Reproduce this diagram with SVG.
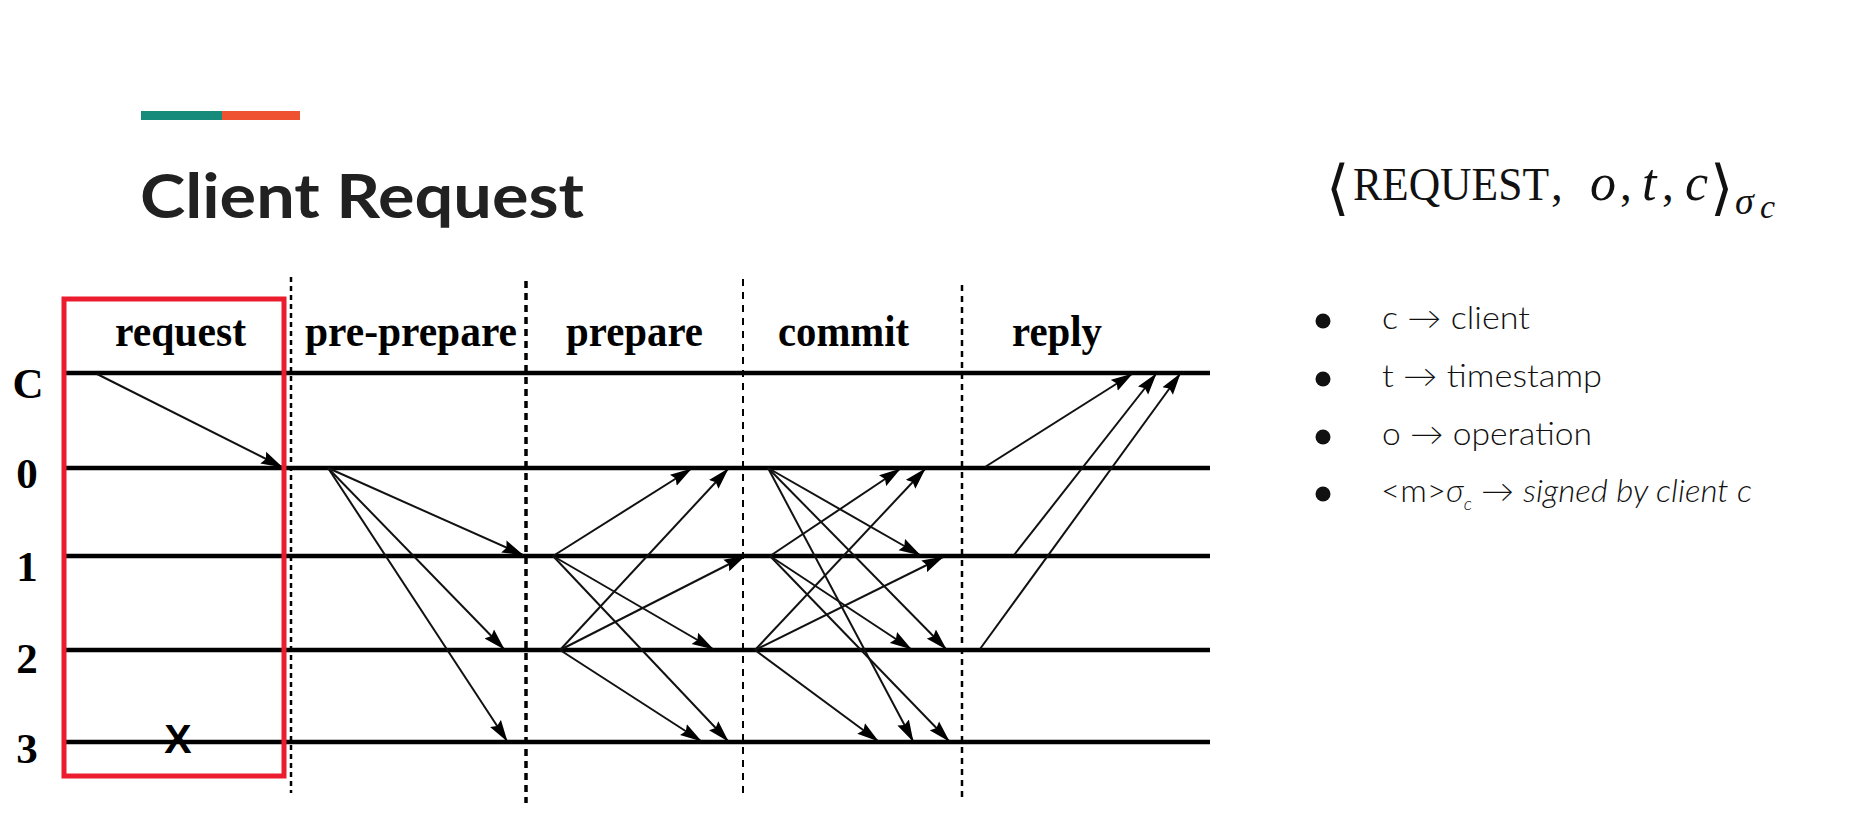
<svg xmlns="http://www.w3.org/2000/svg" width="1872" height="826" viewBox="0 0 1872 826">
<defs>
<marker id="ah" markerUnits="userSpaceOnUse" markerWidth="22" markerHeight="14" refX="21" refY="7" orient="auto">
<path d="M0,0.5 L22,7 L0,13.5 L3,7 z" fill="#000"/>
</marker>
<style>
.life{stroke:#000;stroke-width:4.5;fill:none}
.msg{stroke:#111;stroke-width:2;fill:none;marker-end:url(#ah)}
.phase{fill:#000;font-family:"Liberation Serif","Times New Roman",serif;font-weight:bold;font-size:45px}
.row{fill:#000;font-family:"Liberation Serif","Times New Roman",serif;font-weight:bold;font-size:43px;text-anchor:middle}
.div{stroke:#000;fill:none}
.bul{fill:#111;font-family:Lato,"Open Sans","Liberation Sans",sans-serif;font-weight:300;font-size:31px}
.math{fill:#111;font-family:"Liberation Serif","DejaVu Serif",serif}
.br{font-family:"DejaVu Sans",sans-serif;font-size:60px;font-weight:200}
</style>
</defs>
<rect width="1872" height="826" fill="#fff"/>

<g id="accent">
<rect x="141" y="111" width="81" height="9" fill="#178b7b"/>
<rect x="222" y="111" width="78" height="9" fill="#ef5230"/>
</g>
<g id="title">
<text x="140" y="218" font-family="Lato,'Open Sans','Liberation Sans',sans-serif" font-weight="bold" font-size="62" fill="#212121" textLength="444" lengthAdjust="spacingAndGlyphs">Client Request</text>
</g>

<g id="formula">
<text class="math" font-size="47"><tspan class="br" x="1326" y="208">⟨</tspan><tspan x="1353" y="200" textLength="196" lengthAdjust="spacingAndGlyphs">REQUEST</tspan><tspan x="1551" y="200">,</tspan><tspan x="1590" y="200" font-size="52" font-style="italic">o</tspan><tspan x="1620" y="200">,</tspan><tspan x="1642" y="200" font-size="52" font-style="italic">t</tspan><tspan x="1662" y="200">,</tspan><tspan x="1685" y="200" font-size="52" font-style="italic">c</tspan><tspan class="br" x="1710" y="208">⟩</tspan><tspan x="1735" y="214" font-size="38" font-style="italic">σ</tspan><tspan x="1760" y="218" font-size="34" font-style="italic">c</tspan></text>
</g>

<g id="bullets">
<circle cx="1323" cy="321" r="7.5" fill="#111"/>
<circle cx="1323" cy="379" r="7.5" fill="#111"/>
<circle cx="1323" cy="437" r="7.5" fill="#111"/>
<circle cx="1323" cy="494" r="7.5" fill="#111"/>
<text class="bul" x="1382" y="329" textLength="148" lengthAdjust="spacingAndGlyphs">c → client</text>
<text class="bul" x="1382" y="387" textLength="220" lengthAdjust="spacingAndGlyphs">t → timestamp</text>
<text class="bul" x="1382" y="445" textLength="210" lengthAdjust="spacingAndGlyphs">o → operation</text>
<text class="bul" x="1381" y="502" textLength="371" lengthAdjust="spacingAndGlyphs">&lt;m&gt;<tspan font-style="italic">σ</tspan><tspan dy="8" font-size="17" font-style="italic">c</tspan><tspan dy="-8"> → </tspan><tspan font-style="italic">signed by client c</tspan></text>
</g>

<g id="phase-dividers">
<line class="div" x1="291" y1="277" x2="291" y2="793" stroke-width="2.5" stroke-dasharray="5 4"/>
<line class="div" x1="526" y1="281" x2="526" y2="803" stroke-width="3.5" stroke-dasharray="7 5"/>
<line class="div" x1="743" y1="279" x2="743" y2="796" stroke-width="2" stroke-dasharray="7 6"/>
<line class="div" x1="962" y1="285" x2="962" y2="802" stroke-width="2.5" stroke-dasharray="6 5"/>
</g>

<g id="phase-labels">
<text class="phase" x="115" y="346" textLength="131" lengthAdjust="spacingAndGlyphs">request</text>
<text class="phase" x="305" y="346" textLength="212" lengthAdjust="spacingAndGlyphs">pre-prepare</text>
<text class="phase" x="566" y="346" textLength="137" lengthAdjust="spacingAndGlyphs">prepare</text>
<text class="phase" x="778" y="346" textLength="131" lengthAdjust="spacingAndGlyphs">commit</text>
<text class="phase" x="1012" y="346" textLength="90" lengthAdjust="spacingAndGlyphs">reply</text>
</g>

<g id="lifeline-C"><text class="row" x="28" y="398">C</text><line class="life" x1="66" y1="373" x2="1210" y2="373"/></g>
<g id="lifeline-0"><text class="row" x="27" y="488">0</text><line class="life" x1="66" y1="468" x2="1210" y2="468"/></g>
<g id="lifeline-1"><text class="row" x="27" y="581">1</text><line class="life" x1="66" y1="556" x2="1210" y2="556"/></g>
<g id="lifeline-2"><text class="row" x="27" y="673">2</text><line class="life" x1="66" y1="650" x2="1210" y2="650"/></g>
<g id="lifeline-3"><text class="row" x="27" y="763">3</text><line class="life" x1="66" y1="742" x2="1210" y2="742"/>
<text x="178" y="753" text-anchor="middle" font-family="'Liberation Sans',Arial,sans-serif" font-weight="bold" font-size="41" fill="#000">X</text></g>

<g id="connectors">
<line class="msg" x1="97" y1="374" x2="282" y2="467"/>
<line class="msg" x1="328" y1="468" x2="523" y2="555"/>
<line class="msg" x1="328" y1="468" x2="504" y2="649"/>
<line class="msg" x1="328" y1="468" x2="507" y2="741"/>
<line class="msg" x1="553" y1="556" x2="691" y2="469"/>
<line class="msg" x1="553" y1="556" x2="713" y2="649"/>
<line class="msg" x1="553" y1="556" x2="728" y2="741"/>
<line class="msg" x1="560" y1="650" x2="728" y2="469"/>
<line class="msg" x1="560" y1="650" x2="745" y2="556"/>
<line class="msg" x1="560" y1="650" x2="701" y2="741"/>
<line class="msg" x1="768" y1="468" x2="920" y2="555"/>
<line class="msg" x1="768" y1="468" x2="946" y2="649"/>
<line class="msg" x1="768" y1="468" x2="913" y2="741"/>
<line class="msg" x1="770" y1="556" x2="900" y2="469"/>
<line class="msg" x1="770" y1="556" x2="911" y2="649"/>
<line class="msg" x1="770" y1="556" x2="949" y2="741"/>
<line class="msg" x1="755" y1="650" x2="925" y2="469"/>
<line class="msg" x1="755" y1="650" x2="943" y2="557"/>
<line class="msg" x1="755" y1="650" x2="878" y2="741"/>
<line class="msg" x1="985" y1="467" x2="1132" y2="374"/>
<line class="msg" x1="1014" y1="555" x2="1156" y2="374"/>
<line class="msg" x1="980" y1="649" x2="1180" y2="374"/>
</g>

<g id="request-highlight">
<rect x="64" y="299" width="220" height="477" fill="none" stroke="#ea1c2d" stroke-width="5"/>
</g>
</svg>
